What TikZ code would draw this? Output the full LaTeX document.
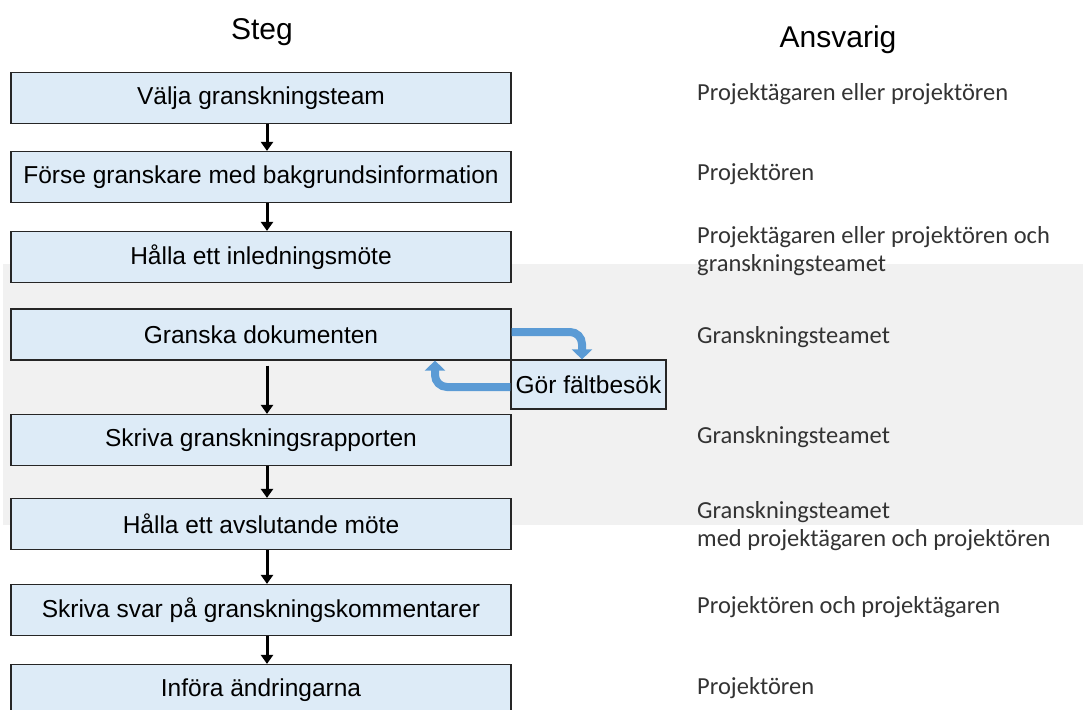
\documentclass[tikz,border=0pt]{standalone}
\usepackage{fontspec}
\setmainfont{Liberation Sans}
\newfontfamily\respfont{Carlito}
\usepackage{tikz}
\usetikzlibrary{positioning, arrows.meta, calc}

\definecolor{boxblue}{RGB}{221,235,247}
\definecolor{bandgray}{RGB}{241,241,241}
\definecolor{loopblue}{RGB}{91,155,213}

\begin{document}
\begin{tikzpicture}[
x=1pt, y=-1pt,
    stepbox/.style={rectangle, draw=black!85, line width=1.2pt, fill=boxblue, minimum width=500pt, minimum height=51pt, inner sep=0pt, align=center, font=\fontsize{24.5}{29}\selectfont},
    visitbox/.style={stepbox, minimum width=155pt, minimum height=49pt},
    resp/.style={anchor=west, inner sep=0pt, align=left, text=black!80, font=\respfont\fontsize{24.5}{27.5}\selectfont},
    head/.style={font=\fontsize{30}{36}\selectfont},
    flow/.style={draw, line width=3pt, -{Triangle[width=12pt,length=9pt]}},
    loopflow/.style={draw=loopblue, line width=8pt, rounded corners=12pt, -{Triangle[width=20pt,length=10pt]}}
]
    \useasboundingbox (0,0) rectangle (1083,709);

    % Background band
    \fill[bandgray] (3,264) rectangle (1083,525);

    % Headings
    \node[head] (hsteg) at (262,32) {Steg};
    \node[head] (hansv) at (838,40) {Ansvarig};

    % Steps
    \node[stepbox] (s1) at (261,98) {Välja granskningsteam};
    \node[stepbox] (s2) at (261,177) {Förse granskare med bakgrundsinformation};
    \node[stepbox] (s3) at (261,257) {Hålla ett inledningsmöte};
    \node[stepbox] (s4) at (261,334.5) {Granska dokumenten};
    \node[stepbox] (s5) at (261,440) {Skriva granskningsrapporten};
    \node[stepbox] (s6) at (261,524) {Hålla ett avslutande möte};
    \node[stepbox] (s7) at (261,610) {Skriva svar på granskningskommentarer};
    \node[stepbox] (s8) at (261,690) {Införa ändringarna};
    \node[visitbox] (visit) at (588.5,384.5) {Gör fältbesök};

    % Responsible
    \node[resp] (r1) at (697,94) {Projektägaren eller projektören};
    \node[resp] (r2) at (697,174) {Projektören};
    \node[resp] (r3) at (697,251) {Projektägaren eller projektören och\\granskningsteamet};
    \node[resp] (r4) at (697,337) {Granskningsteamet};
    \node[resp] (r5) at (697,437) {Granskningsteamet};
    \node[resp] (r6) at (697,526) {Granskningsteamet\\med projektägaren och projektören};
    \node[resp] (r7) at (697,607) {Projektören och projektägaren};
    \node[resp] (r8) at (697,688) {Projektören};

    % Connect steps
    \draw[flow] ([xshift=6pt]s1.south) -- ([xshift=6pt]s2.north);
    \draw[flow] ([xshift=6pt]s2.south) -- ([xshift=6pt]s3.north);
    \draw[flow, shorten <=5pt] ([xshift=6pt]s4.south) -- ([xshift=6pt]s5.north);
    \draw[flow] ([xshift=6pt]s5.south) -- ([xshift=6pt]s6.north);
    \draw[flow] ([xshift=6pt]s6.south) -- ([xshift=6pt]s7.north);
    \draw[flow] ([xshift=6pt]s7.south) -- ([xshift=6pt]s8.north);

    % Field visit loop
    \draw[loopflow] ([yshift=2.5pt]s4.east) -| ([xshift=-6.5pt]visit.north);
    \draw[loopflow] ([yshift=-2.5pt]visit.west) -| ([xshift=174pt]s4.south);

\end{tikzpicture}
\end{document}
